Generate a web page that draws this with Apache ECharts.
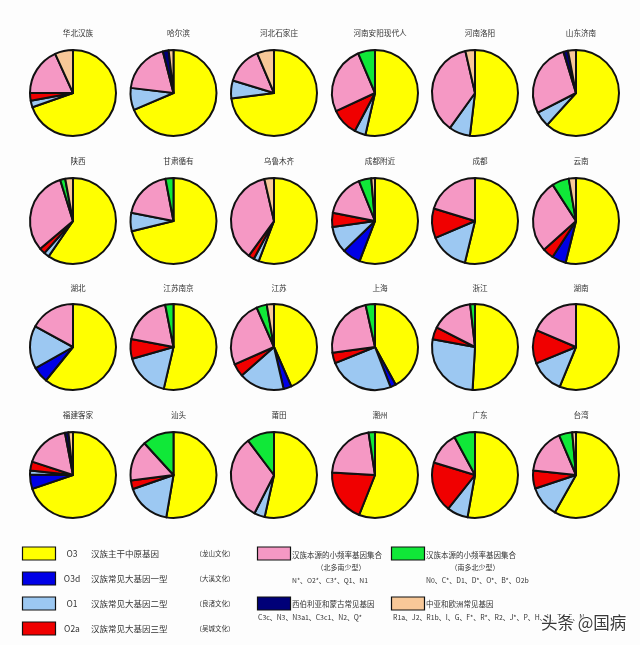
<!DOCTYPE html>
<html>
<head>
<meta charset="utf-8">
<style>html,body{margin:0;padding:0;background:#fdfdfd}#main{width:640px;height:645px}</style>
<script src="https://cdn.jsdelivr.net/npm/echarts@6/dist/echarts.min.js"></script>
</head>
<body>
<div id="main"></div>
<script>
// regions, row by row
var regions = ['华北汉族', '哈尔滨', '河北石家庄', '河南安阳现代人', '河南洛阳', '山东济南',
    '陕西', '甘肃循有', '乌鲁木齐', '成都附近', '成都', '云南',
    '湖北', '江苏南京', '江苏', '上海', '浙江', '湖南',
    '福建客家', '汕头', '莆田', '潮州', '广东', '台湾'];

// percent per haplogroup, same order as regions
var o3 = [69.6, 68.6, 73, 53.6, 51.9, 61.7, 59.6, 71.2, 55.8, 55.8, 53.8, 53.9, 60.8, 53.6, 43.4, 42, 50.9, 56.2, 69.9, 52.7, 53.5, 56, 52.8, 58.2];
var o3d = [0, 0, 0, 0, 0, 0, 0, 0, 0, 6.9, 0, 5.3, 6, 0, 3, 2.1, 0, 0, 5.4, 0, 0, 0, 0, 0];
var o1 = [2.5, 8.3, 6.7, 4.2, 8, 5.8, 2, 6.9, 2, 10, 14.8, 0, 16.2, 16.9, 17.1, 24.8, 27, 12.6, 1.5, 17, 4, 0, 7.9, 11.7];
var o2a = [3, 0, 0, 10.3, 0, 0, 2.2, 0, 2.2, 5.3, 11.1, 4.2, 0, 7.4, 4.9, 4, 4.6, 12.6, 3.4, 3.3, 0, 19.9, 19, 6.8];
var pinkGroup = [18.1, 19.1, 13.9, 25.5, 36.5, 27.8, 31.4, 18.9, 36.4, 15.8, 20.3, 27.5, 17, 18.9, 25, 23.6, 15.7, 18.6, 17, 15.2, 32.2, 21.7, 12.4, 16.9];
var greenGroup = [0, 0, 0, 6.4, 0, 0, 1.9, 3, 0, 4.7, 0, 6.4, 0, 3.1, 3.9, 3.5, 1.8, 0, 0, 11.8, 10.3, 2.4, 7.9, 5];
var siberian = [0, 2.2, 0, 0, 0, 1.7, 0, 0, 0, 0, 0, 0, 0, 0, 0, 0, 0, 0, 1.3, 0, 0, 0, 0, 0];
var centralAsian = [6.8, 1.8, 6.4, 0, 3.6, 3, 2.9, 0, 3.6, 1.4, 0, 2.7, 0, 0, 2.7, 0, 0, 0, 1.7, 0, 0, 0, 0, 1.4];

var groups = [o3, o3d, o1, o2a, pinkGroup, greenGroup, siberian, centralAsian];
var groupNames = ['O3', 'O3d', 'O1', 'O2a', '小频率北', '小频率南', '西伯利亚', '中亚欧洲'];
var colors = ['#ffff00', '#0000e6', '#9cc8f2', '#f00000', '#f598c4', '#10e838', '#000078', '#f8c898'];

// legend text
var leftCodes = ['O3', 'O3d', 'O1', 'O2a'];
var leftNames = ['汉族主干中原基因', '汉族常见大基因一型', '汉族常见大基因二型', '汉族常见大基因三型'];
var leftCultures = ['（龙山文化）', '（大溪文化）', '（良渚文化）', '（吴城文化）'];
var leftColors = ['#ffff00', '#0000e6', '#9cc8f2', '#f00000'];

var colX = [73, 173.5, 274, 375, 475, 576];
var rowY = [93, 221, 347, 475];
var titleY = [33, 161, 288, 415];
var radius = 43;
var textColor = '#333';
var fontName = '"Noto Sans CJK SC", sans-serif';

var myChart = echarts.init(document.getElementById('main'));

var titles = [];
var series = [];
regions.forEach(function (name, i) {
    var col = i % 6;
    var row = Math.floor(i / 6);
    titles.push({
        text: name,
        left: colX[col],
        top: titleY[row] - 9,
        textAlign: 'center',
        textStyle: { color: textColor, fontSize: 7.6, fontWeight: 'normal', fontFamily: fontName }
    });
    // zero slices are skipped, their border would show as a stray line
    var slices = [];
    groups.forEach(function (g, k) {
        if (g[i] > 0) {
            slices.push({ name: groupNames[k], value: g[i], itemStyle: { color: colors[k] } });
        }
    });
    series.push({
        type: 'pie',
        name: name,
        center: [colX[col], rowY[row]],
        radius: radius,
        startAngle: 90,
        clockwise: true,
        silent: true,
        label: { show: false },
        labelLine: { show: false },
        itemStyle: { borderColor: '#111', borderWidth: 2 },
        data: slices
    });
});

function swatch(x, y, fill) {
    return {
        type: 'rect',
        shape: { x: x, y: y, width: 33, height: 13 },
        style: { fill: fill, stroke: '#111', lineWidth: 1.2 }
    };
}
function label(x, y, text, size, align) {
    return {
        type: 'text',
        x: x,
        y: y,
        style: {
            text: text,
            fill: textColor,
            font: size + 'px ' + fontName,
            textAlign: align || 'left',
            textVerticalAlign: 'middle'
        }
    };
}

var graphic = [];
var legendY = [547, 572, 597, 622];
leftCodes.forEach(function (code, i) {
    graphic.push(swatch(22.5, legendY[i], leftColors[i]));
    graphic.push(label(72, legendY[i] + 7, code, 8.5, 'center'));
    graphic.push(label(91, legendY[i] + 7, leftNames[i], 8.5));
    graphic.push(label(215, legendY[i] + 7, leftCultures[i], 6.5, 'center'));
});

graphic.push(swatch(257.5, 547, colors[4]));
graphic.push(label(292, 555, '汉族本源的小频率基因集合', 7.5));
graphic.push(label(341, 567, '（北多南少型）', 7, 'center'));
graphic.push(label(292, 580, 'N*、O2*、C3*、Q1、N1', 6.8));

graphic.push(swatch(391.5, 547, colors[5]));
graphic.push(label(426, 555, '汉族本源的小频率基因集合', 7.5));
graphic.push(label(475, 567, '（南多北少型）', 7, 'center'));
graphic.push(label(426, 580, 'N0、C*、D1、D*、O*、B*、O2b', 6.9));

graphic.push(swatch(257.5, 597, colors[6]));
graphic.push(label(292, 604, '西伯利亚和蒙古常见基因', 7.5));
graphic.push(label(258, 617, 'C3c、N3、N3a1、C3c1、N2、Q*', 6.9));

graphic.push(swatch(391.5, 597, colors[7]));
graphic.push(label(426, 604, '中亚和欧洲常见基因', 7.5));
graphic.push(label(393, 617, 'R1a、J2、R1b、I、G、F*、R*、R2、J*、P、H、L、T、E、N', 6.9));

// watermark
graphic.push({
    type: 'text',
    x: 541,
    y: 623,
    z: 10,
    style: {
        text: '头条 @国病',
        fill: '#3a3a3a',
        font: '16.5px ' + fontName,
        stroke: '#ffffff',
        lineWidth: 2,
        textVerticalAlign: 'middle'
    }
});

var option = {
    backgroundColor: '#fdfdfd',
    animation: false,
    title: titles,
    series: series,
    graphic: graphic
};

myChart.setOption(option);
</script>
</body>
</html>
